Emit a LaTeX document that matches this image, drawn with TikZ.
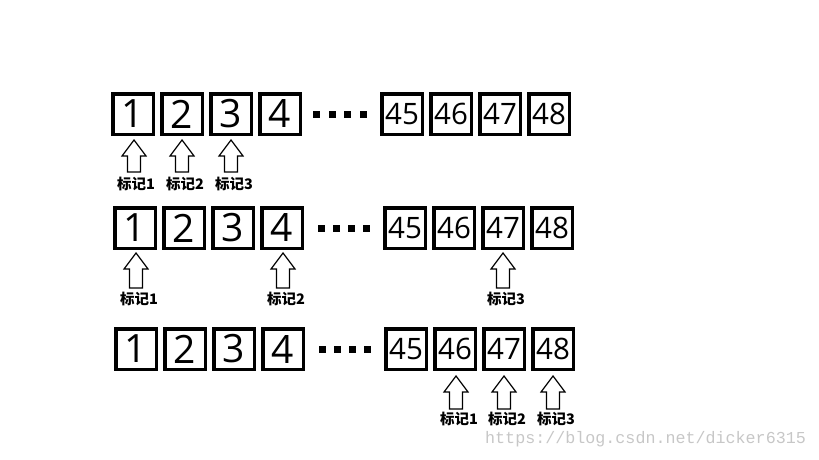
\documentclass[tikz,border=0pt]{standalone}
\usepackage{fontspec}
\setmainfont{Open Sans}
\newfontfamily\cjk{Noto Sans CJK SC}
\newfontfamily\wmfont{Liberation Mono}
\tikzset{
  cell/.style={draw, line width=3.5pt, minimum width=40.5pt, minimum height=40.5pt, inner sep=0pt, font=\fontsize{39}{39}\selectfont},
  cellw/.style={cell, font=\fontsize{29.5}{29.5}\selectfont},
  dotsq/.style={fill=black, draw=none, minimum size=7pt, inner sep=0pt},
  tag/.style={font=\cjk\bfseries\fontsize{14.5}{14.5}\selectfont, inner sep=0pt},
  wmark/.style={font=\wmfont\fontsize{16.7}{16.7}\selectfont, text=black!22, inner sep=0pt},
  uparrow/.pic={\draw[line width=1.2pt, line join=miter, fill=white]
     (0,0) -- (-12,16) -- (-6.5,16) -- (-6.5,#1) -- (6.5,#1) -- (6.5,16) -- (12,16) -- cycle;},
}
\begin{document}
\begin{tikzpicture}[x=1pt,y=-1pt]
\useasboundingbox (0,0) rectangle (819,460);
% row 1
\foreach \i in {1,...,4} \node[cell] (ra\i) at ({133+49*(\i-1)},114) {\i};
\foreach \k in {0,...,3} \node[dotsq] (rad\k) at ({316.5+15.7*\k},114) {};
\foreach \i/\t in {0/45,1/46,2/47,3/48} \node[cellw] (ra\t) at ({402+49*\i},114) {\t};
% row 2
\foreach \i in {1,...,4} \node[cell] (rb\i) at ({135+49*(\i-1)},228) {\i};
\foreach \k in {0,...,3} \node[dotsq] (rbd\k) at ({321.5+15*\k},228) {};
\foreach \i/\t in {0/45,1/46,2/47,3/48} \node[cellw] (rb\t) at ({405+49*\i},228) {\t};
% row 3
\foreach \i in {1,...,4} \node[cell] (rc\i) at ({136+49*(\i-1)},349) {\i};
\foreach \k in {0,...,3} \node[dotsq] (rcd\k) at ({322.5+15*\k},349) {};
\foreach \i/\t in {0/45,1/46,2/47,3/48} \node[cellw] (rc\t) at ({406+49*\i},349) {\t};
% markers row 1
\pic at (134,140) {uparrow=32};
\pic at (182,140) {uparrow=32};
\pic at (231,140) {uparrow=32};
\node[tag] (la1) at (136,184) {标记1};
\node[tag] (la2) at (185,184) {标记2};
\node[tag] (la3) at (234,184) {标记3};
% markers row 2
\pic at (136,253) {uparrow=35};
\pic at (283,253) {uparrow=35};
\pic at (503,253) {uparrow=35};
\node[tag] (lb1) at (139,299) {标记1};
\node[tag] (lb2) at (286,299) {标记2};
\node[tag] (lb3) at (506,299) {标记3};
% markers row 3
\pic at (456,376) {uparrow=33};
\pic at (504,376) {uparrow=33};
\pic at (553,376) {uparrow=33};
\node[tag] (lc1) at (459,419) {标记1};
\node[tag] (lc2) at (507,419) {标记2};
\node[tag] (lc3) at (556,419) {标记3};
% watermark
\node[wmark, anchor=base west] (wm) at (485,443) {https://blog.csdn.net/dicker6315};
\end{tikzpicture}
\end{document}
